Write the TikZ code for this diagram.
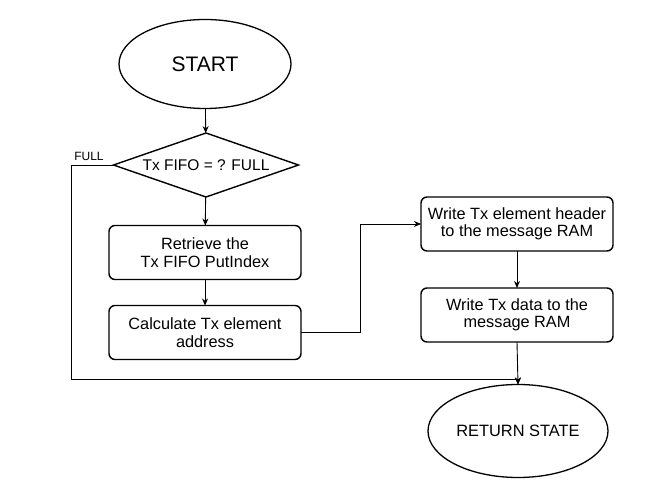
\documentclass[tikz,border=0pt]{standalone}
\usepackage{fontspec}
\setmainfont{Liberation Sans}
\usetikzlibrary{shapes.geometric,arrows.meta}
\begin{document}
\begin{tikzpicture}[x=1pt,y=-1pt,
  box/.style={draw, line width=1.4pt, rounded corners=6pt, minimum width=192pt, minimum height=54pt,
    align=center, font=\fontsize{16.3}{17.5}\selectfont, inner sep=2pt, outer sep=0pt},
  term/.style={draw, ellipse, line width=1.3pt, outer sep=0pt, inner sep=0pt},
  decide/.style={draw, diamond, line width=1.4pt, aspect=2.9, inner sep=0pt, outer sep=0pt,
    minimum width=185pt, minimum height=64pt, font=\fontsize{15.5}{17}\selectfont},
  conn/.style={line width=0.9pt, -{Stealth[length=7pt,width=6pt]}},
  line/.style={line width=0.9pt}]
\useasboundingbox (0,0) rectangle (669,484);
\node[term, minimum width=172pt, minimum height=89pt, font=\fontsize{21}{23}\selectfont] (start) at (205,64) {START};
\node[decide] (dec) at (206,165) {Tx FIFO = ? FULL};
\node[font=\fontsize{12}{14}\selectfont] (full) at (89,156) {FULL};
\node[box] (b1) at (205,252.5) {Retrieve the\\Tx FIFO PutIndex};
\node[box] (b2) at (205,332.5) {Calculate Tx element\\address};
\node[box] (b3) at (517,224) {Write Tx element header\\to the message RAM};
\node[box] (b4) at (517,315) {Write Tx data to the\\message RAM};
\node[term, minimum width=180pt, minimum height=93pt, font=\fontsize{16.4}{18}\selectfont] (ret) at (518,431) {RETURN STATE};
\coordinate (c1) at (71,379);
\coordinate (c2) at (360,332.5);
\draw[conn] (start) -- (dec);
\draw[conn] (dec) -- (b1);
\draw[conn] (b1) -- (b2);
\draw[conn] (b2.east) -- (c2) |- (b3.west);
\draw[conn] (b3) -- (b4);
\draw[conn] (b4.south) -- (ret.north);
\draw[conn] (dec.west) -| (c1) -| (ret.north);
\end{tikzpicture}
\end{document}
